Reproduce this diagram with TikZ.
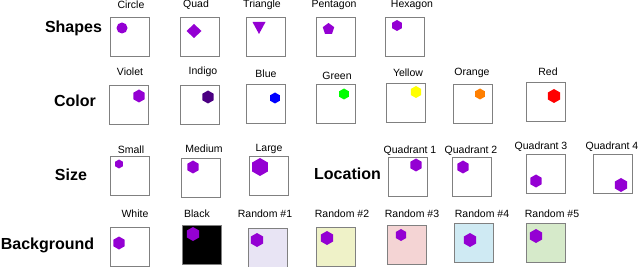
\documentclass[tikz,border=0pt]{standalone}
\usepackage{fontspec}
\setmainfont{Liberation Sans}
\usetikzlibrary{positioning}

\definecolor{dotviolet}{RGB}{148,0,211}
\definecolor{dotindigo}{RGB}{75,0,130}
\definecolor{dotblue}{RGB}{0,0,255}
\definecolor{dotgreen}{RGB}{0,255,0}
\definecolor{dotyellow}{RGB}{255,255,0}
\definecolor{dotorange}{RGB}{255,127,0}
\definecolor{dotred}{RGB}{255,0,0}
\definecolor{bgone}{RGB}{232,228,244}
\definecolor{bgtwo}{RGB}{239,242,200}
\definecolor{bgthree}{RGB}{244,212,212}
\definecolor{bgfour}{RGB}{207,234,243}
\definecolor{bgfive}{RGB}{214,234,202}

\tikzset{
    panel/.style={draw=black!50, line width=0.8pt, minimum width=39pt, minimum height=39pt, inner sep=0pt},
    caption/.style={font=\fontsize{10.5}{12}\selectfont, inner sep=0pt},
    rowname/.style={font=\bfseries\fontsize{16}{18}\selectfont, inner sep=0pt},
}

% pointy-top hexagon marker
\newcommand{\hexdot}[4]{%
    \fill[#4] (#1,#2) +(90:#3) -- +(150:#3) -- +(210:#3) -- +(270:#3) -- +(330:#3) -- +(30:#3) -- cycle;}

\begin{document}
\begin{tikzpicture}[x=1pt, y=-1pt]
    \useasboundingbox (0,0) rectangle (640,267);

    % row names
    \node[rowname] (shapes) at (73.5,28) {Shapes};
    \node[rowname] (color) at (75,101) {Color};
    \node[rowname] (size) at (71,175) {Size};
    \node[rowname] (location) at (347.5,174) {Location};
    \node[rowname] (background) at (47.5,245) {Background};

    % shapes
    \foreach \name/\cx/\lx/\txt in {circle/129.5/131/Circle, quad/199.5/196/Quad, triangle/265.5/262/Triangle,
                                    pentagon/336/334/Pentagon, hexagon/405/412/Hexagon} {
        \node[panel] (shape-\name) at (\cx,36.5) {};
        \node[caption] (shape-\name-lbl) at (\lx,5) {\txt};
    }
    \fill[dotviolet] (122,28) circle (5.5);
    \fill[dotviolet] (194,24) -- (201.5,31) -- (194,38) -- (186.5,31) -- cycle;
    \fill[dotviolet] (252.5,22) -- (265.5,22) -- (259,34) -- cycle;
    \fill[dotviolet] (328.5,29) +(270:6) -- +(342:6) -- +(54:6) -- +(126:6) -- +(198:6) -- cycle;
    \hexdot{397}{25.5}{5.5}{dotviolet}

    % colors
    \foreach \name/\cx/\cy/\lx/\ly/\hx/\hy/\r/\txt in {
            violet/129/104.5/130/72/139/96/6.5/Violet,
            indigo/199.5/104.5/203/72/208/97/6.5/Indigo,
            blue/265.5/103.5/266/74/275/98/5.5/Blue,
            green/335.5/103.5/337/76/344/94/5.5/Green,
            yellow/405.5/103/408/73/416/92/6/Yellow,
            orange/472.5/103.5/472/73/480/94/5.5/Orange,
            red/546/101.5/548/72/554/96/7/Red} {
        \node[panel] (color-\name) at (\cx,\cy) {};
        \node[caption] (color-\name-lbl) at (\lx,\ly) {\txt};
        \hexdot{\hx}{\hy}{\r}{dot\name}
    }

    % sizes and locations
    \foreach \name/\cx/\cy/\lx/\ly/\hx/\hy/\r/\txt in {
            small/129.5/176/131/150/119/164/4.5/Small,
            medium/201/177.5/204/149/193/167/6.5/Medium,
            large/268.5/175.5/269/149/260/167/9/Large,
            quadA/408/176.5/410/151/416/165/6.5/Quadrant 1,
            quadB/472/176.5/471/151/463/167/6.5/Quadrant 2,
            quadC/546/173.5/541/147/536/181/6.5/Quadrant 3,
            quadD/612.5/173.5/612/147/621/185/7/Quadrant 4} {
        \node[panel] (size-\name) at (\cx,\cy) {};
        \node[caption] (size-\name-lbl) at (\lx,\ly) {\txt};
        \hexdot{\hx}{\hy}{\r}{dotviolet}
    }

    % backgrounds
    \foreach \name/\cx/\cy/\lx/\hx/\hy/\r/\bg/\txt in {
            white/129.5/246.5/135/119/243/6.5/white/White,
            black/201.5/245/197/193/234/7/black/Black,
            rndA/268/247.5/265/257/240/7/bgone/Random \#1,
            rndB/335.5/246.5/342/327/238/7/bgtwo/Random \#2,
            rndC/406.5/244.5/412/401/235/6/bgthree/Random \#3,
            rndD/473.5/242.5/482/470/240/7/bgfour/Random \#4,
            rndE/545.5/242.5/552/536/236/7/bgfive/Random \#5} {
        \node[panel, fill=\bg] (bg-\name) at (\cx,\cy) {};
        \node[caption] (bg-\name-lbl) at (\lx,214) {\txt};
        \hexdot{\hx}{\hy}{\r}{dotviolet}
    }
\end{tikzpicture}
\end{document}
